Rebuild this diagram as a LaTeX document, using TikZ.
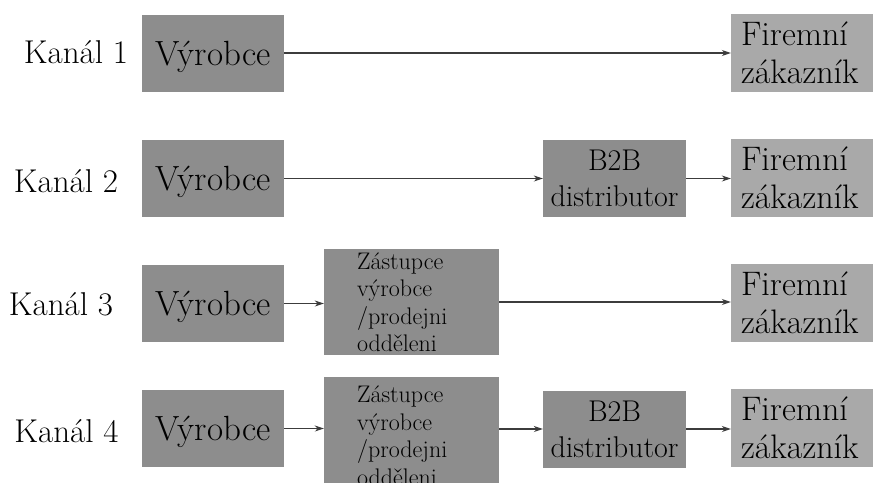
\documentclass[tikz,border=0pt]{standalone}
\usepackage{fontspec}
\usetikzlibrary{arrows.meta}
\definecolor{boxdark}{RGB}{141,141,141}
\definecolor{boxlight}{RGB}{169,169,169}
\definecolor{linecol}{RGB}{60,60,60}
\begin{document}
\begin{tikzpicture}[x=1pt,y=-1pt,
  vbox/.style={fill=boxdark, minimum width=142pt, minimum height=77pt, inner sep=0pt,
    font=\fontsize{35}{38}\selectfont, text height=24pt, text depth=0pt},
  fbox/.style={fill=boxlight, minimum width=142pt, minimum height=78pt, inner xsep=10pt, inner ysep=0pt,
    text width=122pt, align=left, font=\fontsize{34}{38}\selectfont},
  bbox/.style={fill=boxdark, minimum width=143pt, minimum height=77pt, inner sep=0pt,
    text width=143pt, align=center, font=\fontsize{30}{36}\selectfont},
  zbox/.style={fill=boxdark, minimum width=175pt, minimum height=106pt, inner xsep=33pt, inner ysep=0pt,
    text width=109pt, align=left, font=\fontsize{24}{27.5}\selectfont},
  lbl/.style={font=\fontsize{33}{36}\selectfont, inner sep=0pt, text height=23pt, text depth=0pt},
  arr/.style={draw=linecol, line width=1.2pt, -{Stealth[length=9pt,width=6pt]}}
]
\useasboundingbox (0,0) rectangle (877,482);
\clip (0,0) rectangle (877,482);
\fill[white] (0,0) rectangle (877,482);

% labels
\node[lbl] (k1) at (76,51.5) {Kanál 1};
\node[lbl] (k2) at (66,180.5) {Kanál 2};
\node[lbl] (k3) at (61,303.5) {Kanál 3};
\node[lbl] (k4) at (66.5,430.5) {Kanál 4};

% row 1
\node[vbox] (v1) at (213,53) {Výrobce};
\node[fbox] (f1) at (802,52.5) {Firemní\\zákazník};
% row 2
\node[vbox] (v2) at (213,178.5) {Výrobce};
\node[bbox] (b1) at (614.5,178.5) {B2B\\distributor};
\node[fbox] (f2) at (802,178) {Firemní\\zákazník};
% row 3
\node[vbox] (v3) at (213,303.5) {Výrobce};
\node[zbox] (z1) at (411.5,302) {Zástupce\\výrobce\\/prodejni\\odděleni};
\node[fbox] (f3) at (802,303) {Firemní\\zákazník};
% row 4
\node[vbox] (v4) at (213,428.5) {Výrobce};
\node[zbox, minimum height=117pt] (z2) at (411.5,435.5) {Zástupce\\výrobce\\/prodejni\\odděleni};
\node[bbox] (b2) at (614.5,429) {B2B\\distributor};
\node[fbox] (f4) at (802,427.5) {Firemní\\zákazník};

% arrows
\draw[arr] (v1.east) -- (v1.east -| f1.west);
\draw[arr] (v2.east) -- (v2.east -| b1.west);
\draw[arr] (b1.east) -- (b1.east -| f2.west);
\draw[arr] (v3.east) -- (v3.east -| z1.west);
\draw[arr] (z1.east) -- (z1.east -| f3.west);
\draw[arr] (v4.east) -- (v4.east -| z2.west);
\draw[arr] (b2.west -| z2.east) -- (b2.west);
\draw[arr] (b2.east) -- (b2.east -| f4.west);
\end{tikzpicture}
\end{document}
